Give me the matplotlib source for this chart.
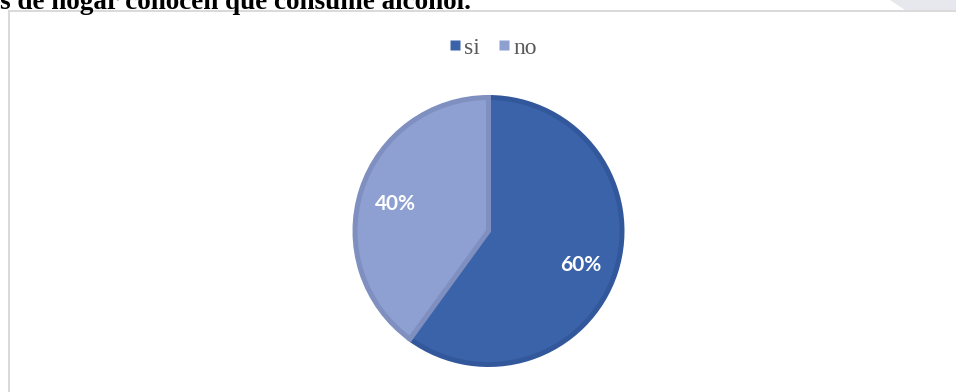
import matplotlib
matplotlib.use("Agg")
import matplotlib.pyplot as plt
from matplotlib.patches import Rectangle, Polygon
from matplotlib.lines import Line2D

W, H = 956, 392

# datos de la encuesta
labels = ["si", "no"]
shares = [60, 40]
face_colors = ["#3A63AA", "#8EA0D2"]
edge_colors = ["#32589B", "#7F90C0"]
title_text = "s de hogar conocen que consume alcohol."

fig = plt.figure(figsize=(W / 100, H / 100), dpi=100)
fig.patch.set_facecolor("white")

# fondo decorativo gris en la esquina superior derecha
fig.patches.append(Polygon([(890 / W, 1), (956 / W, 1), (956 / W, 1 - 10 / H), (905 / W, 1 - 10 / H)],
                           closed=True, transform=fig.transFigure, facecolor="#E6E8EE",
                           edgecolor="none", zorder=-2))

# marco del grafico
fig.patches.append(Rectangle((8.5 / W, -0.1), 1.2, 1.1 - 11 / H, transform=fig.transFigure,
                             facecolor="white", edgecolor="#D9D9D9", linewidth=1.4, zorder=-1))

fig.text(0, 1 - 9 / H, title_text, ha="left", va="baseline", fontsize=19.5,
         fontweight="bold", family="Liberation Serif", color="black")

# circulo
cx, cy, r = 488.5, 231, 136
ax = fig.add_axes([(cx - r) / W, (H - cy - r) / H, 2 * r / W, 2 * r / H])

wedges, _, autotexts = ax.pie(shares, colors=face_colors, startangle=90, counterclock=False,
                              radius=133.5 / 136, autopct="%1.0f%%", pctdistance=0.73,
                              wedgeprops=dict(linewidth=3.6))
# pie() fija los limites en +-1.25, se ajustan al radio
ax.set_xlim(-1, 1)
ax.set_ylim(-1, 1)
ax.set_aspect("equal")
ax.axis("off")

for w, ec in zip(wedges, edge_colors):
    w.set_edgecolor(ec)
for t in autotexts:
    x, y = t.get_position()
    t.set_position((x, y - 0.025))
    t.set_color("white")
    t.set_fontsize(15)
    t.set_fontweight("bold")
    t.set_family("Lato")

handles = [Line2D([], [], marker="s", linestyle="none", markersize=7.5, markerfacecolor=c,
                  markeredgecolor="none") for c in face_colors]
fig.legend(handles, labels, loc="center", bbox_to_anchor=(492 / W, 1 - 48 / H), ncol=2,
           frameon=False, handletextpad=0.1, columnspacing=0.7, handlelength=0.6,
           prop=dict(family="Liberation Serif", size=17), labelcolor="#595959")

fig.savefig("out.png", dpi=100)
